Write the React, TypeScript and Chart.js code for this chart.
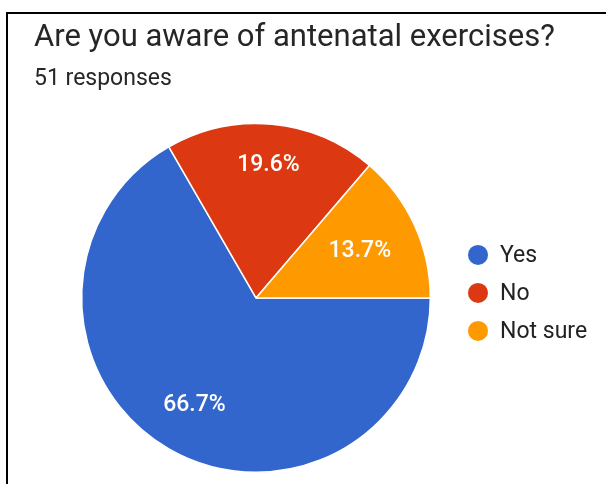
import { useEffect, useRef } from "react";
import { Chart, registerables } from "chart.js";

Chart.register(...registerables);

// Survey question and its answers
const questionTitle = "Are you aware of antenatal exercises?";
const responseSummary = "51 responses";
const answers = ["Yes", "No", "Not sure"];
const responseCounts = [34, 10, 7];
const sliceColors = ["#3366cc", "#dc3912", "#ff9900"];

const FONT = "Roboto, 'Noto Sans', Arial, sans-serif";

// The title runs across the full card width, not only over the pie's area.
const wideTitle = {
  id: "wideTitle",
  afterLayout(chart: any) {
    const t = chart.titleBlock;
    if (t) {
      t.right = chart.width - 4;
      t.width = t.right - t.left;
    }
  },
};

// Percentage labels inside each slice, pushed outward along the slice's
// middle angle until the text box reaches a fixed share of the radius.
const sliceLabels = {
  id: "sliceLabels",
  afterDatasetsDraw(chart: any) {
    const { ctx } = chart;
    const meta = chart.getDatasetMeta(0);
    const values = chart.data.datasets[0].data as number[];
    const total = values.reduce((a, b) => a + b, 0);
    ctx.save();
    ctx.font = `500 23px ${FONT}`;
    ctx.fillStyle = "#ffffff";
    ctx.textAlign = "center";
    ctx.textBaseline = "middle";
    meta.data.forEach((arc: any, i: number) => {
      const { x, y, startAngle, endAngle, outerRadius } = arc.getProps(
        ["x", "y", "startAngle", "endAngle", "outerRadius"],
        true
      );
      const mid = (startAngle + endAngle) / 2;
      const ux = Math.cos(mid);
      const uy = Math.sin(mid);
      const text = ((values[i] / total) * 100).toFixed(1) + "%";
      const w = ctx.measureText(text).width;
      const h = 18;
      const reach =
        outerRadius * 0.84 - (Math.abs(ux) * w) / 2 - (Math.abs(uy) * h) / 2;
      ctx.fillText(text, x + ux * reach, y + uy * reach + 1);
    });
    ctx.restore();
  },
};

// Vertical legend with round markers to the right of the pie
const sideLegend = {
  id: "sideLegend",
  afterDraw(chart: any) {
    const { ctx, chartArea } = chart;
    const labels = chart.data.labels as string[];
    const colors = chart.data.datasets[0].backgroundColor as string[];
    const rowGap = 38;
    const cx = chartArea.right;
    const midY = (chartArea.top + chartArea.bottom) / 2 - 5;
    const startY = midY - ((labels.length - 1) * rowGap) / 2;
    ctx.save();
    ctx.font = `23px ${FONT}`;
    ctx.textBaseline = "middle";
    ctx.textAlign = "left";
    labels.forEach((label, i) => {
      const cy = startY + i * rowGap;
      ctx.beginPath();
      ctx.arc(cx, cy, 10, 0, Math.PI * 2);
      ctx.fillStyle = colors[i];
      ctx.fill();
      ctx.fillStyle = "#222222";
      ctx.fillText(label, cx + 22, cy + 1);
    });
    ctx.restore();
  },
};

export default function App() {
  const canvasRef = useRef<HTMLCanvasElement | null>(null);

  useEffect(() => {
    if (!canvasRef.current) return;
    const chart = new Chart(canvasRef.current, {
      type: "pie",
      data: {
        labels: answers,
        datasets: [
          {
            data: responseCounts,
            backgroundColor: sliceColors,
            borderColor: "#ffffff",
            borderWidth: 1.5,
          },
        ],
      },
      options: {
        responsive: false,
        animation: false,
        rotation: 90,
        layout: { padding: { left: 34, right: 128, top: 14, bottom: 11 } },
        plugins: {
          legend: { display: false },
          tooltip: { enabled: false },
          title: {
            display: true,
            text: questionTitle,
            align: "start",
            color: "#262626",
            font: { family: FONT, size: 31, weight: "normal" },
            padding: { top: 5.5, bottom: 0 },
          },
          subtitle: {
            display: true,
            text: responseSummary,
            align: "start",
            color: "#262626",
            font: { family: FONT, size: 23, weight: "normal" },
            padding: { top: 8.5, bottom: 30 },
          },
        },
      },
      plugins: [wideTitle, sliceLabels, sideLegend],
    });
    return () => chart.destroy();
  }, []);

  return (
    <div
      style={{
        position: "fixed",
        left: 0,
        top: 0,
        width: 606,
        height: 484,
        background: "#ffffff",
        overflow: "hidden",
      }}
    >
      <canvas ref={canvasRef} width={606} height={484} />
      <div
        style={{
          position: "absolute",
          left: 6,
          top: 12,
          width: 606,
          height: 480,
          borderTop: "2px solid #000",
          borderLeft: "2px solid #000",
          pointerEvents: "none",
        }}
      />
    </div>
  );
}
